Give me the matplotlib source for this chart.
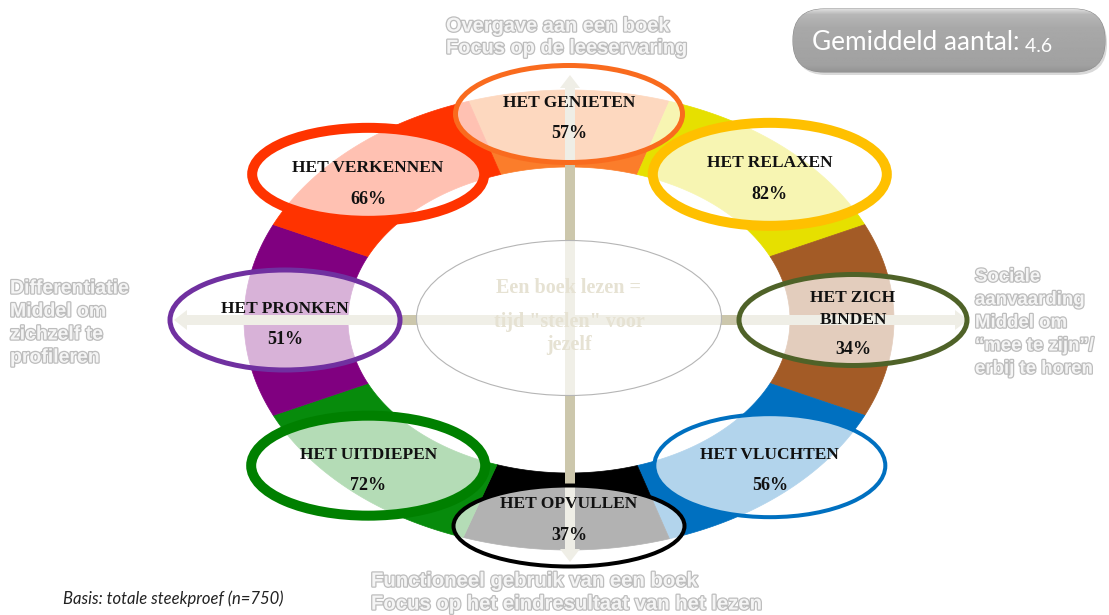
import numpy as np
import matplotlib
matplotlib.use("Agg")
import matplotlib.pyplot as plt
import matplotlib.patches as mpatches
import matplotlib.patheffects as pe

# data (clockwise from the top)
labels = ["HET GENIETEN", "HET RELAXEN", "HET ZICH\nBINDEN", "HET VLUCHTEN",
          "HET OPVULLEN", "HET UITDIEPEN", "HET PRONKEN", "HET VERKENNEN"]
percent = [57, 82, 34, 56, 37, 72, 51, 66]
# ring segment borders (degrees, counter-clockwise from east)
seg_bounds = [108, 72, 24.5, -24.5, -72, -109, -155.5, -204.5, -252]
ring_colors = ["#FB7D2B", "#E6E000", "#A35B26", "#0070C0",
               "#000000", "#078B0C", "#800080", "#FF3300"]
edge_colors = ["#F96B1E", "#FFC000", "#4F6228", "#0070C0",
               "#000000", "#008000", "#7030A0", "#FF3300"]
label_angle = [90, 45, 0, -45, -90, -135, 180, 135]

top_lines = ["Overgave aan een boek", "Focus op de leeservaring"]
bottom_lines = ["Functioneel gebruik van een boek", "Focus op het eindresultaat van het lezen"]
left_lines = ["Differentiatie", "Middel om", "zichzelf te", "profileren"]
right_lines = ["Sociale", "aanvaarding", "Middel om", "\u201cmee te zijn\u201d/", "erbij te horen"]
center_lines = ["Een boek lezen =", "tijd \"stelen\" voor", "jezelf"]
mean_value = 4.6
n_total = 750

# styles / layout
ell_w = [232, 244, 233, 235, 235, 244, 235, 242]
ell_h = [102, 113, 96, 107, 85, 110, 105, 103]
ell_lw = [5, 10, 5, 4, 4, 10, 5, 10]          # px
txt_shift = [0, 0, 0, 0, -11, 0, 0, 5]
cx, cy = 569, 320
rxo, ryo, rxi, ryi = 325, 230, 221, 153
orbit_rx, orbit_ry = 284, 206
px = 72 / 100  # px -> pt

fig = plt.figure(figsize=(11.09, 6.15), dpi=100)
ax = fig.add_axes([0, 0, 1, 1])
ax.set_xlim(0, 1109)
ax.set_ylim(615, 0)
ax.axis("off")


def ring_pts(t0, t1, n=80):
    t = np.radians(np.linspace(t0, t1, n))
    xo = cx + rxo * np.cos(t)
    yo = cy - ryo * np.sin(t)
    xi = cx + rxi * np.cos(t[::-1])
    yi = cy - ryi * np.sin(t[::-1])
    return np.column_stack([np.r_[xo, xi], np.r_[yo, yi]])


# coloured ring
for i, col in enumerate(ring_colors):
    poly = mpatches.Polygon(ring_pts(seg_bounds[i + 1], seg_bounds[i]),
                            closed=True, fc=col, ec=col, lw=0.5, zorder=1)
    ax.add_patch(poly)

# cross of arrows
arrow_col = "#CCC7AC"
for dx, dy in [(0, -245), (0, 242), (-396, 0), (398, 0)]:
    ax.add_patch(mpatches.FancyArrow(570, 320, dx, dy, width=10, head_width=20,
                                     head_length=13, length_includes_head=True,
                                     fc=arrow_col, ec="none", zorder=2))

# central ellipse
ax.add_patch(mpatches.Ellipse((569, 318), 305, 155, fc=(1, 1, 1, 0.72),
                              ec="#B5B5B5", lw=0.8, zorder=3))
for s, y in zip(center_lines, [288, 322, 345]):
    ax.text(569, y, s, ha="center", va="center", fontsize=14.5, fontweight="bold",
            family="Liberation Serif", color="#E6E2D3", zorder=4)

# motive ellipses (opvullen drawn last, it lies on top)
order = [0, 1, 2, 3, 5, 6, 7, 4]
for i in order:
    a = np.radians(label_angle[i])
    ex = cx + orbit_rx * np.cos(a)
    ey = cy - orbit_ry * np.sin(a)
    lw = ell_lw[i]
    ax.add_patch(mpatches.Ellipse((ex, ey), ell_w[i] - lw, ell_h[i] - lw,
                                  fc=(1, 1, 1, 0.7), ec=edge_colors[i],
                                  lw=lw * px, zorder=5 + order.index(i) * 0.01))
    ly = ey - 11 + txt_shift[i]
    py = ey + 20 + txt_shift[i] + (10 if "\n" in labels[i] else 0)
    ax.text(ex, ly, labels[i], ha="center", va="center", fontsize=12.5,
            fontweight="bold", family="Liberation Serif", color="#111111",
            linespacing=1.45, zorder=6)
    ax.text(ex, py, f"{percent[i]}%", ha="center", va="center", fontsize=13,
            fontweight="bold", family="Liberation Serif", color="#111111", zorder=6)

# grey outlined captions
halo = [pe.withStroke(linewidth=1.8, foreground="#BDBDBD")]
cap = dict(family="Liberation Sans", fontweight="bold", color="#F5F5F5",
           path_effects=halo, va="center", ha="left", zorder=7)
for k, s in enumerate(top_lines):
    ax.text(446, 26 + k * 22, s, fontsize=14.4, **cap)
for k, s in enumerate(bottom_lines):
    ax.text(371, 581 + k * 23, s, fontsize=14.6, **cap)
for k, s in enumerate(left_lines):
    ax.text(10, 289 + k * 23, s, fontsize=14, **cap)
for k, s in enumerate(right_lines):
    ax.text(975, 277 + k * 23, s, fontsize=13.4, **cap)

# top-right rounded box with gradient
shadow = mpatches.FancyBboxPatch((795, 12), 312, 63, boxstyle="round,pad=0,rounding_size=31",
                                 fc="#D9D9D9", ec="none", zorder=7)
ax.add_patch(shadow)
box = mpatches.FancyBboxPatch((793, 9), 312, 63, boxstyle="round,pad=0,rounding_size=31",
                              fc="#A6A6A6", ec="#8E8E8E", lw=0.8, zorder=8)
ax.add_patch(box)
grad = np.interp(np.linspace(0, 1, 64), [0, 0.08, 0.3, 0.9, 1.0],
                 [0.86, 0.72, 0.66, 0.63, 0.58])
img = ax.imshow(np.tile(grad[:, None], (1, 2)), cmap="gray", vmin=0, vmax=1,
                extent=(793, 1105, 72, 9), aspect="auto", zorder=8.5)
img.set_clip_path(box)
t1 = ax.text(812, 43, "Gemiddeld aantal:", fontsize=18.8, family="Lato",
             color="white", va="center", ha="left", zorder=9)
ax.annotate(f" {mean_value}", xy=(1, 0), xycoords=t1, fontsize=14, family="Lato",
            color="white", va="bottom", ha="left", zorder=9)

ax.set_xlim(0, 1109)
ax.set_ylim(615, 0)

# footnote
ax.text(63, 599, f"Basis: totale steekproef (n={n_total})", fontsize=12,
        family="Lato", style="italic", color="#222222", va="center", ha="left")

fig.savefig("out.png", dpi=100)
